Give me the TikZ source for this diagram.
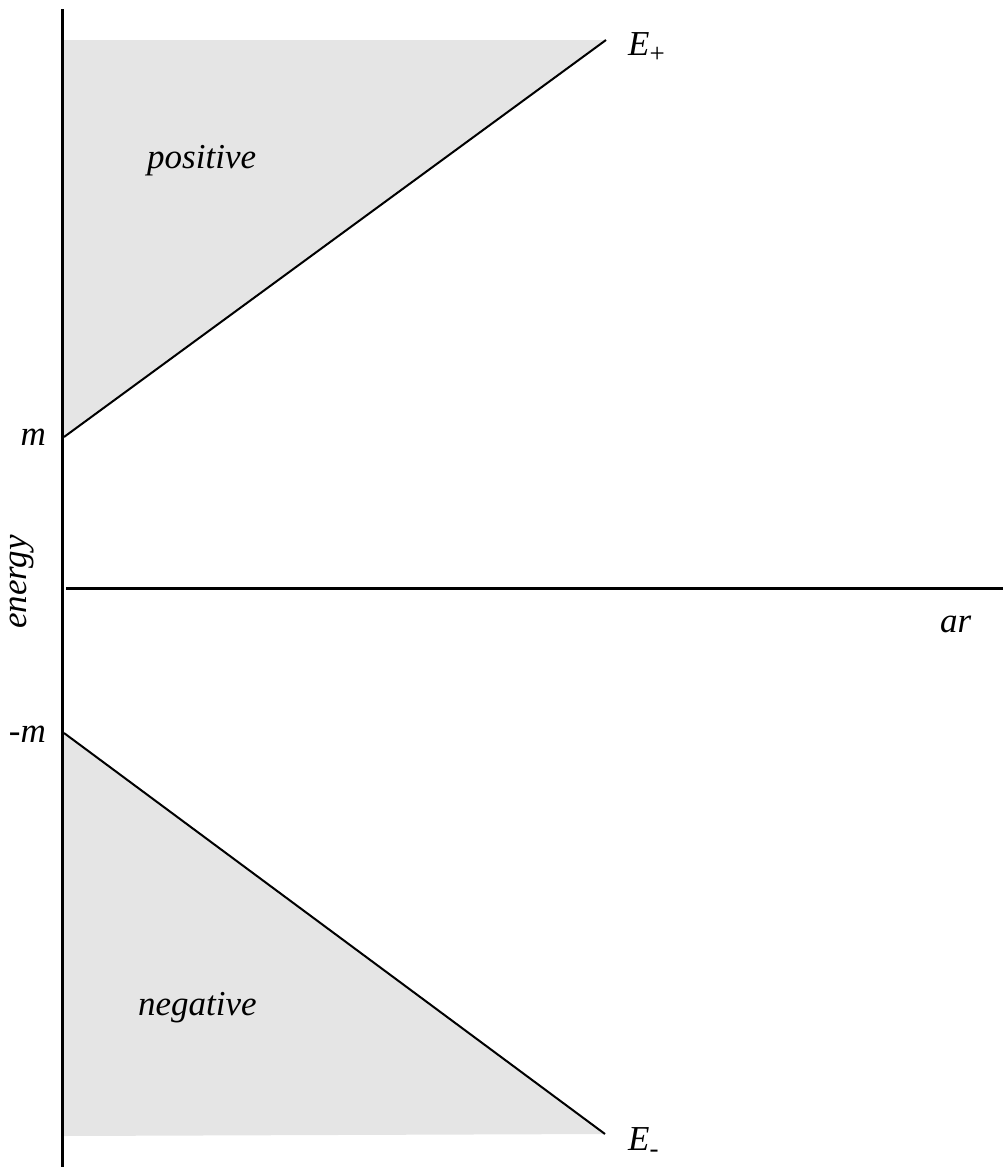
\documentclass[tikz,border=0pt]{standalone}
\usepackage{fontspec}
\setmainfont{Liberation Serif}

\tikzset{
  lbl/.style={inner sep=0pt,font=\fontsize{35}{40}\selectfont\itshape},
}
\newcommand{\lowsub}[1]{\raisebox{-0.22em}{\fontsize{27}{27}\selectfont\upshape #1}}

\begin{document}
\begin{tikzpicture}[x=1pt,y=-1pt]
   \useasboundingbox (0,0) rectangle (1003,1167);
   % shaded regions
   \fill[black!10] (64,40) -- (606,40) -- (64,437) -- cycle;
   \fill[black!10] (64,733) -- (605,1134) -- (64,1136) -- cycle;
   % axes
   \draw[line width=3pt] (62,9) -- (62,1167);
   \draw[line width=3pt] (66,588) -- (1003,588);
   % branches
   \draw[line width=2pt] (64,437) -- (606,40);
   \draw[line width=2pt] (64,733) -- (605,1134);
   % labels
   \node[lbl,anchor=base west] (epos) at (628,55) {E\lowsub{+}};
   \node[lbl,anchor=base west] (eneg) at (628,1150) {E\lowsub{-}};
   \node[lbl,anchor=base west] (pos) at (147,168) {positive};
   \node[lbl,anchor=base west] (neg) at (138,1015) {negative};
   \node[lbl,anchor=base east] (mp) at (46,445) {m};
   \node[lbl,anchor=base east] (mn) at (46,742) {-m};
   \node[lbl,anchor=base west] (ar) at (940,632) {ar};
   \node[lbl,rotate=90] (en) at (22,582) {energy};
\end{tikzpicture}
\end{document}
